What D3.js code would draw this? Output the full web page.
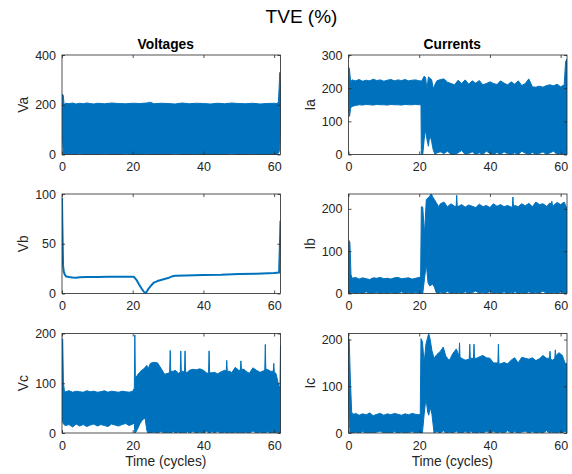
<!DOCTYPE html>
<html>
<head>
<meta charset="utf-8">
<script src="https://cdn.jsdelivr.net/npm/d3@7"></script>
<style>
  body { margin: 0; background: #fff; }
  svg { display: block; font-family: "Liberation Sans", Arial, Helvetica, sans-serif; }
  .tick text { fill: #262626; font-size: 12.5px; }
  .tick line { stroke: #262626; stroke-width: 0.8; }
</style>
</head>
<body>
<svg id="fig" width="572" height="474"></svg>
<script>
// time axis of every panel (cycles)
const timeTicks = [0, 20, 40, 60]
const timeMax = 61.8

// Va : dense band, upper / lower envelope
const vaTime  = [0, 0.15, 0.35, 0.6, 1, 2, 3, 4, 5, 6, 7, 8, 9, 10, 12, 14, 16, 18, 20, 22, 24, 25, 26, 28, 30, 32, 34, 36, 38, 40, 42, 44, 46, 48, 50, 52, 54, 56, 58, 60, 60.8, 61.2, 61.4, 61.6, 61.8]
const vaUpper = [175, 242, 238, 200, 206, 204, 207, 203, 206, 204, 207, 205, 203, 206, 204, 207, 205, 204, 206, 205, 207, 210, 204, 206, 205, 203, 207, 204, 206, 205, 203, 206, 204, 207, 205, 204, 206, 203, 205, 206, 204, 212, 265, 330, 270]
const vaLower = [175, 60, 0, 0, 0, 2, 0, 0, 3, 0, 0, 1, 0, 0, 2, 0, 0, 3, 0, 0, 2, 0, 0, 1, 0, 3, 0, 0, 2, 0, 0, 1, 0, 3, 0, 0, 2, 0, 0, 1, 0, 5, 10, 30, 100]

// Ia
const iaTime  = [0, 0.1, 0.3, 0.6, 1, 2, 3, 4, 5, 6, 7, 8, 9, 10, 11, 12, 13, 14, 15, 16, 17, 18, 19, 20, 20.5, 20.6, 21, 21.4, 21.8, 22.2, 22.6, 23, 23.5, 24, 24.5, 25, 26, 27, 28, 29, 30, 31, 32, 33, 34, 35, 36, 37, 38, 39, 40, 41, 42, 43, 44, 45, 46, 47, 48, 49, 50, 51, 52, 53, 54, 55, 56, 57, 58, 59, 60, 61, 61.4, 61.8]
const iaUpper = [180, 262, 255, 218,
  225, 222, 226, 221, 224, 222, 227, 223, 225, 221, 224, 226, 222, 225, 223, 226, 222, 224, 225, 222,
  222, 220,
  228, 236, 232, 196, 234, 230, 226, 198, 212,
  222, 226, 228, 218, 214, 210, 224, 214, 225, 212, 222, 215, 223, 210, 214, 219, 214, 211, 222, 215,
  210, 219, 212, 222, 208, 214, 228, 204, 203, 206, 203, 208, 210, 207, 212, 204, 210,
  280, 288]
const iaLower = [180, 130, 115, 140,
  145, 148, 150, 149, 151, 150, 149, 151, 150, 150, 149, 151, 150, 150, 149, 151, 150, 150, 151, 150,
  150, 0,
  0, 45, 75, 45, 25, 60, 40, 12, 0,
  5, 8, 3, 10, 0, 0, 5, 12, 0, 3, 8, 0, 5, 0, 10, 3, 0, 6, 0, 8,
  2, 0, 5, 0, 10, 4, 0, 6, 0, 3, 8, 0, 5, 10, 0, 3, 0,
  0, 0]

// Vb : single line
const vbTime   = [0, 0.1, 0.2, 0.3, 0.5, 0.8, 1.2, 2, 3, 4, 5, 7, 10, 13, 16, 19, 20.3, 21, 21.8, 22.5, 23.2, 23.6, 24, 24.5, 25.2, 26, 27, 28.5, 30, 31, 32, 35, 40, 45, 50, 55, 60, 61.4, 61.6, 61.8]
const vbValues = [96, 70, 50, 28, 22, 19, 17, 16.5, 16, 15.8, 16.3, 16.5, 16.7, 16.8, 16.8, 16.9, 16.8, 14, 9, 5, 1.5, 0.5, 2, 5, 8, 11, 12.5, 14, 15.5, 17, 17.8, 18, 18.5, 18.8, 19.5, 19.8, 20.5, 21, 45, 73]

// Ib
const ibTime  = [0, 0.15, 0.4, 0.7,
  1, 2, 3, 4, 5, 6, 7, 8, 9, 10, 11, 12, 13, 14, 15, 16, 17, 18, 19, 20,
  20.4, 20.6, 21, 21.5, 22, 22.5, 23, 23.4, 23.8, 24.3, 24.8, 25.5, 26, 27, 28, 29,
  30, 30.45, 30.6, 30.75, 31.2,
  32, 33, 34, 35, 36, 37, 38, 39, 40, 41, 42, 43, 44, 45,
  46, 46.35, 46.5, 46.65, 47,
  48, 49, 50, 51, 52, 53, 54, 55, 56,
  57, 57.35, 57.5, 57.65, 58,
  59, 60, 61, 61.8]
const ibUpper = [80, 125, 120, 45,
  36, 38, 34, 37, 35, 33, 37, 36, 38, 35, 36, 34, 37, 38, 35, 36, 37, 34, 36, 38,
  40, 205, 204, 140, 222, 226, 230, 236, 228, 222, 215, 205, 212, 216, 205, 212,
  206, 206, 232, 207, 206,
  210, 204, 209, 206, 203, 211, 205, 208, 203, 212, 206, 210, 205, 208,
  204, 205, 228, 206, 208,
  205, 212, 207, 213, 205, 216, 210, 212, 206,
  214, 210, 218, 210, 208,
  215, 210, 216, 200]
const ibLower = [0, 0, 0, 0,
  3, 0, 2, 0, 4, 0, 1, 3, 0, 2, 0, 3, 0, 1, 4, 0, 2, 0, 3, 0,
  0, 0, 0, 35, 70, 25, 18, 20, 22, 15, 2, 0, 3, 0, 5, 0,
  2, 0, 0, 0, 3,
  0, 4, 0, 2, 6, 0, 3, 0, 5, 0, 2, 0, 4, 0,
  3, 0, 0, 0, 5,
  0, 2, 0, 4, 0, 3, 0, 6, 0,
  2, 0, 0, 0, 3,
  0, 4, 0, 0]

// Vc
const vcTime  = [0, 0.2, 0.4, 0.7,
  1, 2, 3, 4, 5, 6, 7, 8, 9, 10, 11, 12, 13, 14, 15, 16, 17, 18, 19, 20,
  20.45, 20.6, 20.75,
  21.5, 22, 22.5, 23, 23.5, 24, 24.3,
  25, 26, 27, 28, 29, 30,
  30.45, 30.6, 30.75, 31.5,
  32, 33,
  33.45, 33.6, 33.75, 34.2, 34.65, 34.8, 34.95, 35.5,
  36, 37, 38, 39, 40, 41,
  41.45, 41.6, 41.75, 42.5,
  43, 44, 45, 46,
  46.45, 46.6, 46.75, 47.5,
  48, 49, 50,
  50.45, 50.6, 50.75, 51.5,
  52, 53, 54, 55, 56, 57,
  57.35, 57.5, 57.65,
  58, 59,
  59.75, 59.9, 60.05, 60.5, 61, 61.4, 61.65, 61.8]
const vcUpper = [190, 188, 100, 84,
  83, 85, 82, 84, 83, 82, 85, 83, 84, 82, 83, 85, 82, 84, 83, 82, 84, 83, 82, 84,
  90, 197, 110,
  118, 122, 126, 128, 132, 136, 128,
  140, 142, 141, 130, 118, 120,
  122, 166, 124, 124,
  126, 120,
  122, 165, 124, 124, 122, 165, 122, 122,
  126, 128, 127, 129, 126, 120,
  121, 165, 121, 121,
  122, 119, 123, 126,
  125, 146, 124, 124,
  121, 132, 126,
  126, 145, 128, 128,
  124, 120, 131, 126, 122, 125,
  126, 178, 128,
  128, 124,
  124, 140, 122, 120, 105, 92, 95, 176]
const vcLower = [40, 22, 18, 16,
  15, 17, 12, 18, 14, 17, 13, 16, 18, 14, 17, 15, 13, 18, 16, 14, 17, 19, 15, 18,
  20, 0, 0,
  10, 18, 24, 28, 30, 5, 0,
  0, 2, 0, 3, 0, 1,
  0, 2, 0, 3,
  0, 2,
  0, 3, 0, 1, 0, 2, 0, 3,
  0, 3, 0, 2, 0, 4,
  0, 2, 0, 3,
  0, 3, 0, 2,
  0, 3, 0, 2,
  0, 2, 0,
  3, 0, 2, 0,
  2, 0, 4, 0, 2, 0,
  0, 3, 0,
  3, 0,
  2, 0, 3, 0, 2, 0, 0, 0]

// Ic
const icTime  = [0, 0.2, 0.5, 0.9, 1.5,
  2, 3, 4, 5, 6, 7, 8, 9, 10, 11, 12, 13, 14, 15, 16, 17, 18, 19, 20,
  20.3, 20.5, 20.9,
  21.4, 21.9, 22.4, 22.7, 23.1, 23.6, 24.2,
  25, 26, 26.8, 27.5, 28.5, 29.5, 30.5,
  31.25, 31.4, 31.55,
  32, 33,
  34.15, 34.3, 34.45,
  35.35, 35.5, 35.65,
  36.2,
  37, 38, 39, 40, 41,
  42.25, 42.4, 42.55,
  43, 44, 45, 46, 47, 48, 49, 50, 51, 52, 53, 54, 55, 56,
  56.85, 57, 57.15,
  57.8,
  58.35, 58.5, 58.65,
  59.5, 60.5, 61.2, 61.8]
const icUpper = [205, 200, 120, 44, 40,
  42, 38, 41, 39, 43, 37, 40, 42, 38, 41, 39, 42, 40, 38, 41, 39, 42, 40, 39,
  42, 202, 196,
  150, 190, 205, 213, 200, 176, 160,
  168, 175, 184, 165, 155, 170, 180,
  165, 193, 162,
  160, 156,
  158, 190, 160,
  160, 190, 160,
  160,
  163, 166, 161, 160, 150,
  150, 190, 148,
  148, 151, 148, 156, 161, 150, 162, 160, 158, 161, 155, 159, 166, 160,
  160, 175, 158,
  156,
  160, 178, 165,
  172, 166, 150, 148]
const icLower = [60, 20, 0, 0, 0,
  2, 0, 3, 0, 1, 0, 2, 4, 0, 1, 0, 3, 0, 2, 0, 1, 3, 0, 2,
  0, 0, 0,
  40, 75, 45, 38, 55, 40, 0,
  3, 0, 5, 0, 2, 0, 4,
  0, 0, 2,
  0, 3,
  0, 0, 5,
  0, 0, 2,
  0,
  2, 0, 4, 0, 3,
  0, 0, 2,
  2, 0, 5, 0, 3, 0, 2, 4, 0, 3, 0, 2, 0, 5,
  0, 0, 3,
  0,
  2, 0, 0,
  2, 0, 4, 0]

const blue = "#0072BD"
const ink = "#262626"

const svg = d3.select("#fig")
const colLeft = [62, 348.5]
const rowTop = [55, 194, 333.5]
const panelW = 218.5
const panelH = 99.5

const panels = [
  {col: 0, row: 0, label: "Va", yMax: 400, yTicks: [0, 200, 400], time: vaTime, upper: vaUpper, lower: vaLower},
  {col: 1, row: 0, label: "Ia", yMax: 300, yTicks: [0, 100, 200, 300], time: iaTime, upper: iaUpper, lower: iaLower},
  {col: 0, row: 1, label: "Vb", yMax: 100, yTicks: [0, 50, 100], time: vbTime, values: vbValues},
  {col: 1, row: 1, label: "Ib", yMax: 235, yTicks: [0, 100, 200], time: ibTime, upper: ibUpper, lower: ibLower},
  {col: 0, row: 2, label: "Vc", yMax: 200, yTicks: [0, 100, 200], time: vcTime, upper: vcUpper, lower: vcLower},
  {col: 1, row: 2, label: "Ic", yMax: 213, yTicks: [0, 100, 200], time: icTime, upper: icUpper, lower: icLower}
]

panels.forEach((p, i) => {
  const x0 = colLeft[p.col], y0 = rowTop[p.row]
  const g = svg.append("g").attr("transform", `translate(${x0},${y0})`)

  const x = d3.scaleLinear().domain([0, timeMax]).range([0, panelW])
  const y = d3.scaleLinear().domain([0, p.yMax]).range([panelH, 0])

  g.append("clipPath").attr("id", "clip" + i)
    .append("rect").attr("width", panelW).attr("height", panelH)

  const plot = g.append("g").attr("clip-path", `url(#clip${i})`)

  if (p.values) {
    const line = d3.line().x((d, k) => x(p.time[k])).y(d => y(d))
    plot.append("path")
      .datum(p.values)
      .attr("d", line)
      .attr("fill", "none")
      .attr("stroke", blue)
      .attr("stroke-width", 2)
      .attr("stroke-linejoin", "round")
  } else {
    const area = d3.area()
      .x((d, k) => x(p.time[k]))
      .y0((d, k) => y(p.lower[k]))
      .y1(d => y(d))
    plot.append("path")
      .datum(p.upper)
      .attr("d", area)
      .attr("fill", blue)
      .attr("stroke", blue)
      .attr("stroke-width", 1)
  }

  // box with inward ticks on all sides
  g.append("g").attr("transform", `translate(0,${panelH})`)
    .call(d3.axisBottom(x).tickValues(timeTicks).tickSize(-3).tickPadding(8))
    .call(a => a.select(".domain").remove())
  g.append("g")
    .call(d3.axisTop(x).tickValues(timeTicks).tickSize(-3).tickFormat(""))
    .call(a => a.select(".domain").remove())
  g.append("g")
    .call(d3.axisLeft(y).tickValues(p.yTicks).tickSize(-3).tickPadding(6))
    .call(a => a.select(".domain").remove())
  g.append("g").attr("transform", `translate(${panelW},0)`)
    .call(d3.axisRight(y).tickValues(p.yTicks).tickSize(-3).tickFormat(""))
    .call(a => a.select(".domain").remove())
  g.selectAll(".tick text").attr("font-family", null).attr("font-size", null)

  g.append("rect")
    .attr("width", panelW).attr("height", panelH)
    .attr("fill", "none").attr("stroke", ink).attr("stroke-width", 0.8)

  g.append("text")
    .attr("transform", `translate(-34,${panelH / 2}) rotate(-90)`)
    .attr("text-anchor", "middle")
    .attr("fill", ink)
    .attr("font-size", 13.75)
    .text(p.label)

  if (p.row === 0) {
    g.append("text")
      .attr("x", panelW / 2 - 5.5).attr("y", -6)
      .attr("text-anchor", "middle")
      .attr("font-weight", "bold")
      .attr("font-size", 13.75)
      .attr("fill", "#000")
      .text(p.col === 0 ? "Voltages" : "Currents")
  }
  if (p.row === 2) {
    g.append("text")
      .attr("x", panelW / 2 - 5.5).attr("y", panelH + 33)
      .attr("text-anchor", "middle")
      .attr("font-size", 13.75)
      .attr("fill", ink)
      .text("Time (cycles)")
  }
})

svg.append("text")
  .attr("x", 301.5).attr("y", 23)
  .attr("text-anchor", "middle")
  .attr("font-size", 19)
  .attr("fill", "#000")
  .text("TVE (%)")
</script>
</body>
</html>
